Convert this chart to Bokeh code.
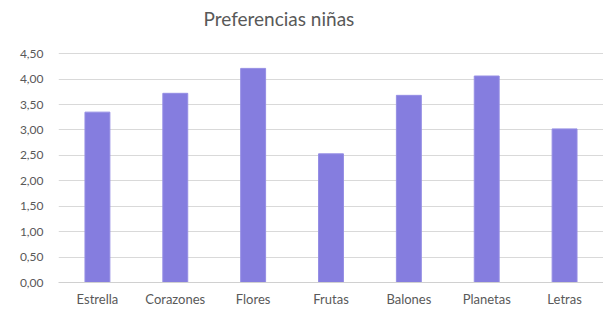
from bokeh.plotting import figure
from bokeh.models import FactorRange, FixedTicker, CustomJSTickFormatter, Range1d, Label
from bokeh.embed import file_html
from bokeh.resources import INLINE

categories = ["Estrella", "Corazones", "Flores", "Frutas", "Balones", "Planetas", "Letras"]
values = [3.35, 3.72, 4.21, 2.53, 3.68, 4.06, 3.02]
y_ticks = [0, 0.5, 1, 1.5, 2, 2.5, 3, 3.5, 4, 4.5]
title_text = "Preferencias niñas"

FONT = "Lato"
TXT = "#595959"

# frame spans the whole height; only ticks up to 4.5 are drawn
p = figure(x_range=FactorRange(*categories, range_padding=0),
           y_range=Range1d(0, 5.545),
           width=603, height=309, output_backend="svg", toolbar_location=None,
           min_border_left=58, min_border_right=0, min_border_top=0, min_border_bottom=26)

p.vbar(x=categories, top=values, width=0.32, fill_color="#857DDF", line_color="#958EE4", line_width=1)

title = Label(x=1.862, y=5.19, text=title_text, text_align="left", text_baseline="middle",
              text_font=FONT, text_font_size="19px", text_color=TXT)
p.add_layout(title)

p.outline_line_color = None
p.xgrid.grid_line_color = None
p.ygrid.grid_line_color = "#d9d9d9"
p.ygrid.grid_line_width = 1

p.yaxis.ticker = FixedTicker(ticks=y_ticks)
p.yaxis.formatter = CustomJSTickFormatter(code="return tick.toFixed(2).replace('.', ',');")
p.yaxis.axis_line_color = None
p.yaxis.major_tick_line_color = None
p.yaxis.minor_tick_line_color = None
p.yaxis.major_tick_out = 0
p.yaxis.major_label_standoff = 15

p.xaxis.axis_line_color = "#d0d0d0"
p.xaxis.major_tick_line_color = None
p.xaxis.minor_tick_line_color = None
p.xaxis.major_tick_out = 0
p.xaxis.major_label_standoff = 8

for ax in (p.xaxis[0], p.yaxis[0]):
    ax.major_label_text_font = FONT
    ax.major_label_text_color = TXT
p.yaxis.major_label_text_font_size = "12px"
p.xaxis.major_label_text_font_size = "13px"

open("out.html", "w").write(file_html(p, INLINE))
